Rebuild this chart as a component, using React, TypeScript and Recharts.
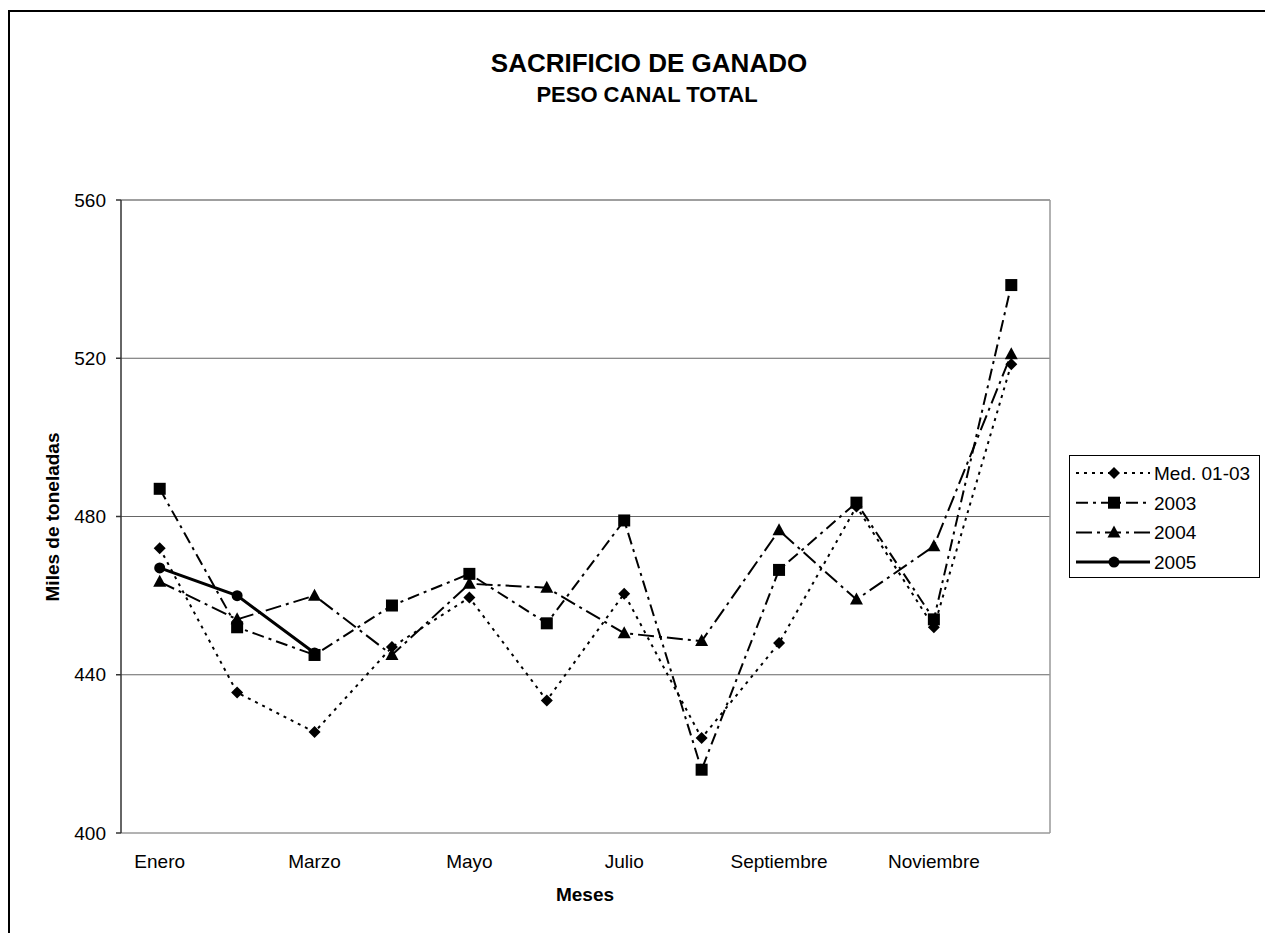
import React from 'react';
import { LineChart, Line, XAxis, YAxis, CartesianGrid, ReferenceLine, Legend } from 'recharts';

const meses = ['Enero', 'Febrero', 'Marzo', 'Abril', 'Mayo', 'Junio', 'Julio', 'Agosto', 'Septiembre', 'Octubre', 'Noviembre', 'Diciembre'];
const med0103 = [472, 435.5, 425.5, 447, 459.5, 433.5, 460.5, 424, 448, 482.5, 452, 518.5];
const y2003 = [487, 452, 445, 457.5, 465.5, 453, 479, 416, 466.5, 483.5, 454, 538.5];
const y2004 = [463.5, 454, 460, 445, 463, 462, 450.5, 448.5, 476.5, 459, 472.5, 521];
const y2005: (number | null)[] = [467, 460, 445.5, null, null, null, null, null, null, null, null, null];
const yTicks = [400, 440, 480, 520, 560];

const FONT = 'Arial, "Liberation Sans", sans-serif';

// x position = middle of each month's band
const data = meses.map((mes, i) => ({
  x: i + 0.5,
  mes,
  med: med0103[i],
  a2003: y2003[i],
  a2004: y2004[i],
  a2005: y2005[i],
}));

const boundaryTicks = meses.map((_, i) => i).concat([12]);
const labelTicks = meses.map((_, i) => i + 0.5).filter((_, i) => i % 2 === 0);

type DotProps = { cx?: number | null; cy?: number | null; index?: number };

const Diamond = ({ cx, cy }: DotProps) => {
  if (cx == null || cy == null) return <g />;
  const r = 6;
  return <path d={`M${cx},${cy - r}L${cx + r},${cy}L${cx},${cy + r}L${cx - r},${cy}Z`} fill="#000" />;
};
const Square = ({ cx, cy }: DotProps) => {
  if (cx == null || cy == null) return <g />;
  return <rect x={cx - 6} y={cy - 6} width={12} height={12} fill="#000" />;
};
const Triangle = ({ cx, cy }: DotProps) => {
  if (cx == null || cy == null) return <g />;
  return <path d={`M${cx},${cy - 7}L${cx + 6.5},${cy + 5}L${cx - 6.5},${cy + 5}Z`} fill="#000" />;
};
const Circle = ({ cx, cy }: DotProps) => {
  if (cx == null || cy == null) return <g />;
  return <circle cx={cx} cy={cy} r={5.5} fill="#000" />;
};

const series = [
  { key: 'med', name: 'Med. 01-03', dash: '3 5', width: 2, Dot: Diamond },
  { key: 'a2003', name: '2003', dash: '12 5 3 5', width: 2, Dot: Square },
  { key: 'a2004', name: '2004', dash: '16 5 3 5', width: 2, Dot: Triangle },
  { key: 'a2005', name: '2005', dash: undefined, width: 3, Dot: Circle },
];

function LegendBox() {
  return (
    <div style={{ border: '1px solid #000', background: '#fff', width: 189, height: 121 }}>
      <svg width={189} height={121}>
        {series.map((s, i) => {
          const cy = 17 + i * 29.7;
          return (
            <g key={s.key}>
              <line x1={6} x2={80} y1={cy} y2={cy} stroke="#000" strokeWidth={s.width} strokeDasharray={s.dash} />
              <s.Dot cx={44} cy={cy} />
              <text x={84} y={cy + 7} fontFamily={FONT} fontSize={19} fill="#000">{s.name}</text>
            </g>
          );
        })}
      </svg>
    </div>
  );
}

export default function App() {
  return (
    <div style={{ position: 'absolute', left: 8, top: 8, width: 1257, height: 925, overflow: 'hidden', fontFamily: FONT }}>
      <LineChart
        width={1257}
        height={925}
        data={data}
        margin={{ top: 192, right: 215, bottom: 60, left: 53 }}
      >
        <CartesianGrid vertical={false} stroke="#666" strokeWidth={1} />
        <XAxis
          xAxisId="grid"
          dataKey="x"
          type="number"
          domain={[0, 12]}
          ticks={boundaryTicks}
          tickFormatter={() => ''}
          height={0}
          tickSize={6}
          axisLine={{ stroke: '#333', strokeWidth: 1.5 }}
          tickLine={{ stroke: '#333', strokeWidth: 1.5 }}
        />
        <XAxis
          xAxisId="mes"
          dataKey="x"
          type="number"
          domain={[0, 12]}
          ticks={labelTicks}
          tickFormatter={(v: number) => meses[Math.floor(v)]}
          height={40}
          tickSize={0}
          tickMargin={22}
          axisLine={false}
          tickLine={false}
          interval={0}
          tick={{ fontSize: 19, fill: '#000', fontFamily: FONT }}
        />
        <YAxis
          domain={[400, 560]}
          ticks={yTicks}
          width={60}
          tickSize={5}
          tickMargin={10}
          axisLine={{ stroke: '#333', strokeWidth: 1.5 }}
          tickLine={{ stroke: '#333', strokeWidth: 1.5 }}
          tick={{ fontSize: 19, fill: '#000', fontFamily: FONT }}
        />
        <ReferenceLine xAxisId="grid" x={12} stroke="#999" strokeWidth={1.5} />
        <ReferenceLine xAxisId="grid" y={560} stroke="#999" strokeWidth={1.5} />
        {series.map((s) => (
          <Line
            key={s.key}
            xAxisId="mes"
            dataKey={s.key}
            name={s.name}
            stroke="#000"
            strokeWidth={s.width}
            strokeDasharray={s.dash}
            dot={(p: any) => <s.Dot key={`${s.key}-${p.index}`} cx={p.cx} cy={p.cy} />}
            activeDot={false}
            isAnimationActive={false}
            connectNulls={false}
          />
        ))}
        <Legend
          layout="vertical"
          align="center"
          verticalAlign="middle"
          wrapperStyle={{ position: 'absolute', left: 1061, top: 447, width: 191 }}
          content={() => <LegendBox />}
        />
      </LineChart>
      <svg width={1257} height={925} style={{ position: 'absolute', left: 0, top: 0, pointerEvents: 'none' }}>
        <line x1={0} x2={1257} y1={3} y2={3} stroke="#000" strokeWidth={2} />
        <line x1={1} x2={1} y1={2} y2={925} stroke="#000" strokeWidth={2} />
        <text x={641} y={64} textAnchor="middle" fontFamily={FONT} fontWeight="bold" fontSize={26} fill="#000">
          SACRIFICIO DE GANADO
        </text>
        <text x={639} y={94} textAnchor="middle" fontFamily={FONT} fontWeight="bold" fontSize={22} fill="#000">
          PESO CANAL TOTAL
        </text>
        <text x={51} y={509} transform="rotate(-90 51 509)" textAnchor="middle" fontFamily={FONT} fontWeight="bold" fontSize={19} fill="#000">
          Miles de toneladas
        </text>
        <text x={577} y={893} textAnchor="middle" fontFamily={FONT} fontWeight="bold" fontSize={19} fill="#000">
          Meses
        </text>
      </svg>
    </div>
  );
}
